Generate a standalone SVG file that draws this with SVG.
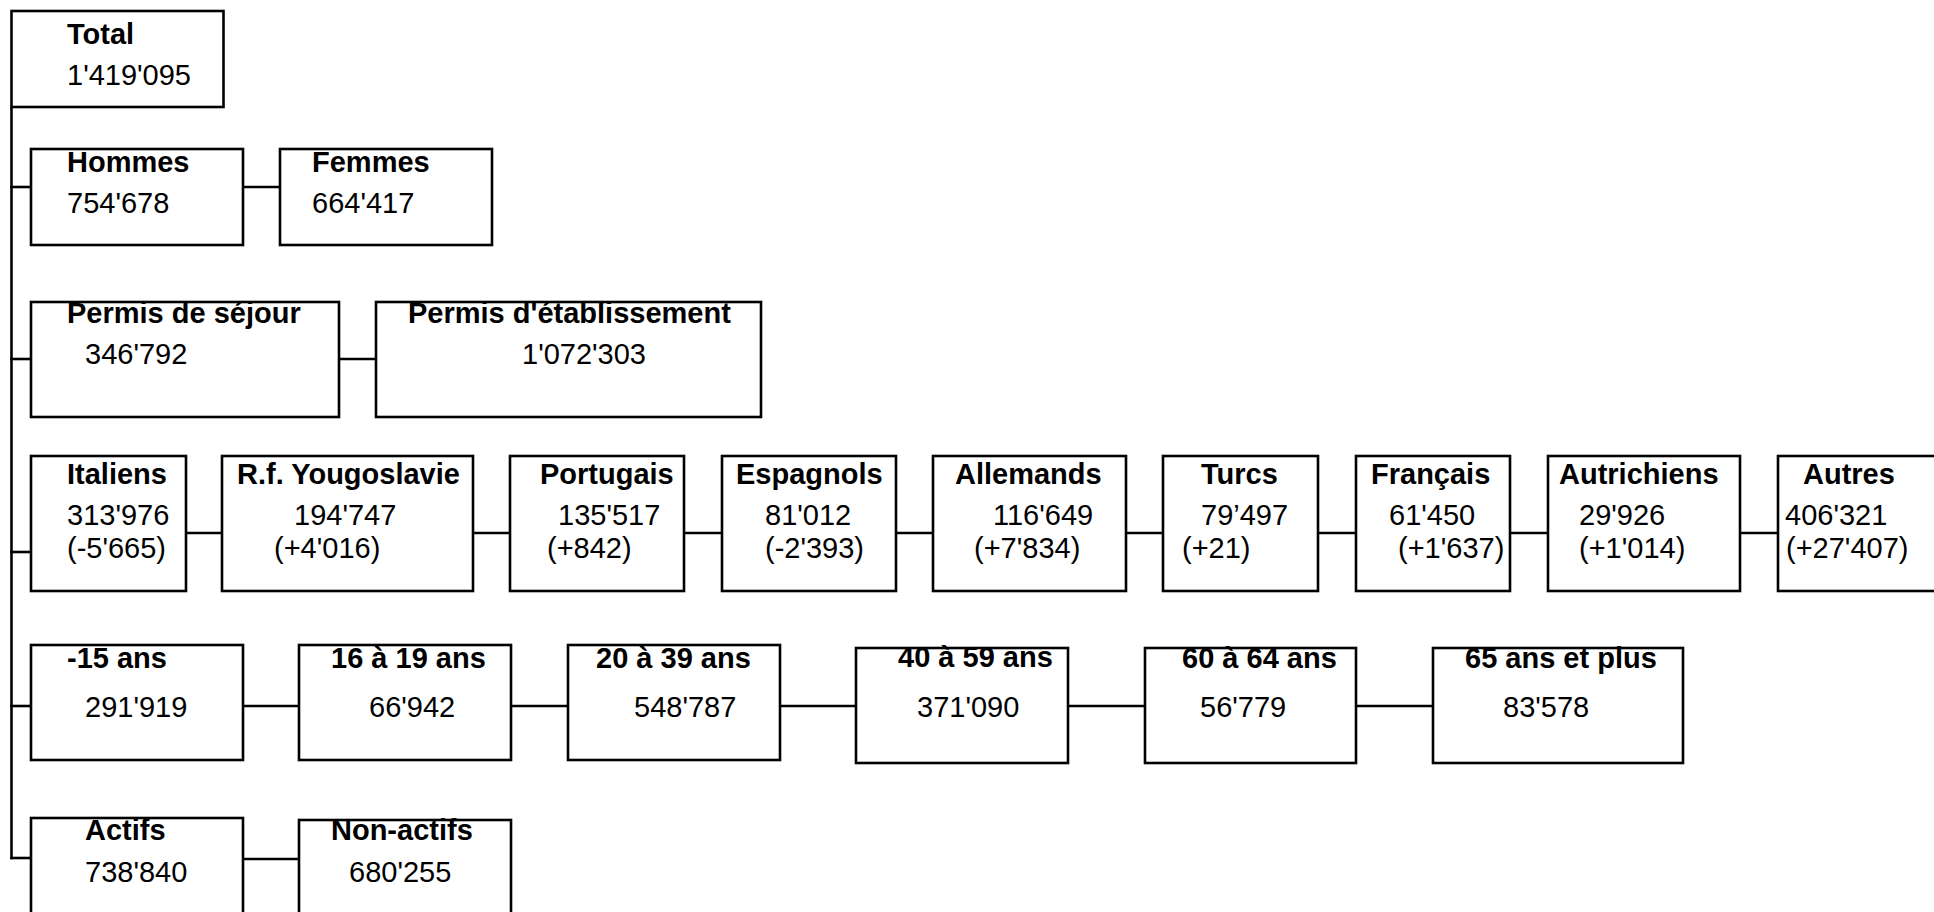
<svg xmlns="http://www.w3.org/2000/svg" width="1934" height="912" viewBox="0 0 1934 912">
<style>
rect{fill:#fff;stroke:#000;stroke-width:2.6}
line{stroke:#000;stroke-width:2.6}
text{font-family:"Liberation Sans",Arial,sans-serif;font-size:29px;fill:#000}
.t{font-weight:bold}
</style>
<rect x="0" y="0" width="1934" height="912" style="stroke:none"/>
<g id="connectors">
<line x1="11.5" y1="107" x2="11.5" y2="859.3"/>
<line x1="10.2" y1="187" x2="31" y2="187"/>
<line x1="243" y1="187" x2="280" y2="187"/>
<line x1="10.2" y1="359" x2="31" y2="359"/>
<line x1="339" y1="359" x2="376" y2="359"/>
<line x1="10.2" y1="552" x2="31" y2="552"/>
<line x1="186" y1="533" x2="222" y2="533"/>
<line x1="473" y1="533" x2="510" y2="533"/>
<line x1="684" y1="533" x2="722" y2="533"/>
<line x1="896" y1="533" x2="933" y2="533"/>
<line x1="1126" y1="533" x2="1163" y2="533"/>
<line x1="1318" y1="533" x2="1356" y2="533"/>
<line x1="1510" y1="533" x2="1548" y2="533"/>
<line x1="1740" y1="533" x2="1778" y2="533"/>
<line x1="10.2" y1="706" x2="31" y2="706"/>
<line x1="243" y1="706" x2="299" y2="706"/>
<line x1="511" y1="706" x2="568" y2="706"/>
<line x1="780" y1="706" x2="856" y2="706"/>
<line x1="1068" y1="706" x2="1145" y2="706"/>
<line x1="1356" y1="706" x2="1433" y2="706"/>
<line x1="10.2" y1="858" x2="31" y2="858"/>
<line x1="243" y1="859" x2="299" y2="859"/>
</g>
<g id="total"><rect x="11.5" y="11" width="212" height="96"/><text class="t" x="67" y="44">Total</text><text x="67" y="85">1'419'095</text></g>
<g id="hommes"><rect x="31" y="149" width="212" height="96"/><text class="t" x="67" y="172">Hommes</text><text x="67" y="213">754'678</text></g>
<g id="femmes"><rect x="280" y="149" width="212" height="96"/><text class="t" x="312" y="172">Femmes</text><text x="312" y="213">664'417</text></g>
<g id="sejour"><rect x="31" y="302" width="308" height="115"/><text class="t" x="67" y="323">Permis de séjour</text><text x="85" y="364">346'792</text></g>
<g id="etablissement"><rect x="376" y="302" width="385" height="115"/><text class="t" x="408" y="323">Permis d'établissement</text><text x="522" y="364">1'072'303</text></g>
<g id="italiens"><rect x="31" y="456" width="155" height="135"/><text class="t" x="67" y="484">Italiens</text><text x="67" y="525">313'976</text><text x="67" y="558">(-5'665)</text></g>
<g id="yougoslavie"><rect x="222" y="456" width="251" height="135"/><text class="t" x="237" y="484">R.f. Yougoslavie</text><text x="294" y="525">194'747</text><text x="274" y="558">(+4'016)</text></g>
<g id="portugais"><rect x="510" y="456" width="174" height="135"/><text class="t" x="540" y="484">Portugais</text><text x="558" y="525">135'517</text><text x="547" y="558">(+842)</text></g>
<g id="espagnols"><rect x="722" y="456" width="174" height="135"/><text class="t" x="736" y="484">Espagnols</text><text x="765" y="525">81'012</text><text x="765" y="558">(-2'393)</text></g>
<g id="allemands"><rect x="933" y="456" width="193" height="135"/><text class="t" x="955" y="484">Allemands</text><text x="993" y="525">116'649</text><text x="974" y="558">(+7'834)</text></g>
<g id="turcs"><rect x="1163" y="456" width="155" height="135"/><text class="t" x="1201" y="484">Turcs</text><text x="1201" y="525">79’497</text><text x="1182" y="558">(+21)</text></g>
<g id="francais"><rect x="1356" y="456" width="154" height="135"/><text class="t" x="1371" y="484">Français</text><text x="1389" y="525">61'450</text><text x="1398" y="558">(+1'637)</text></g>
<g id="autrichiens"><rect x="1548" y="456" width="192" height="135"/><text class="t" x="1559" y="484">Autrichiens</text><text x="1579" y="525">29'926</text><text x="1579" y="558">(+1'014)</text></g>
<g id="autres"><rect x="1778" y="456" width="180" height="135"/><text class="t" x="1803" y="484">Autres</text><text x="1785" y="525">406'321</text><text x="1786" y="558">(+27'407)</text></g>
<g id="age15"><rect x="31" y="645" width="212" height="115"/><text class="t" x="67" y="668">-15 ans</text><text x="85" y="717">291'919</text></g>
<g id="age16"><rect x="299" y="645" width="212" height="115"/><text class="t" x="331" y="668">16 à 19 ans</text><text x="369" y="717">66'942</text></g>
<g id="age20"><rect x="568" y="645" width="212" height="115"/><text class="t" x="596" y="668">20 à 39 ans</text><text x="634" y="717">548'787</text></g>
<g id="age40"><rect x="856" y="648" width="212" height="115"/><text class="t" x="898" y="667">40 à 59 ans</text><text x="917" y="717">371'090</text></g>
<g id="age60"><rect x="1145" y="648" width="211" height="115"/><text class="t" x="1182" y="668">60 à 64 ans</text><text x="1200" y="717">56'779</text></g>
<g id="age65"><rect x="1433" y="648" width="250" height="115"/><text class="t" x="1465" y="668">65 ans et plus</text><text x="1503" y="717">83'578</text></g>
<g id="actifs"><rect x="31" y="818" width="212" height="120"/><text class="t" x="85" y="840">Actifs</text><text x="85" y="882">738'840</text></g>
<g id="nonactifs"><rect x="299" y="820" width="212" height="120"/><text class="t" x="331" y="840">Non-actifs</text><text x="349" y="882">680'255</text></g>
</svg>
